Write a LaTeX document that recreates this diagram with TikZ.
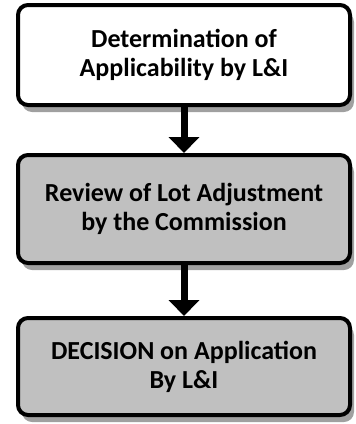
\documentclass[tikz,border=0pt]{standalone}
\usepackage{fontspec}
\setmainfont{Carlito}
\usetikzlibrary{arrows.meta,shadows}
\definecolor{boxgray}{HTML}{C0C0C0}
\definecolor{shadowgray}{HTML}{A0A0A0}
\begin{document}
\begin{tikzpicture}[x=1pt,y=-1pt,
  box/.style={draw=black, line width=4pt, rounded corners=10pt,
    minimum width=332pt, align=center, inner sep=0pt,
    font=\fontsize{26}{29}\selectfont\bfseries,
    drop shadow={shadow xshift=4pt, shadow yshift=-7pt, fill=shadowgray, opacity=1}},
  conn/.style={line width=7pt, -{Triangle[width=30pt,length=16pt]}}]
\useasboundingbox (0,0) rectangle (356,424);
\node[box, fill=white, minimum height=100pt] (b1) at (184,55)
  {Determination of\\Applicability by L\&I};
\node[box, fill=boxgray, minimum height=108pt] (b2) at (184,209)
  {Review of Lot Adjustment\\by the Commission};
\node[box, fill=boxgray, minimum height=97pt] (b3) at (184,366.5)
  {DECISION on Application\\By L\&I};
\draw[conn] (b1.south) -- (b2.north);
\draw[conn] (b2.south) -- (b3.north);
\end{tikzpicture}
\end{document}
